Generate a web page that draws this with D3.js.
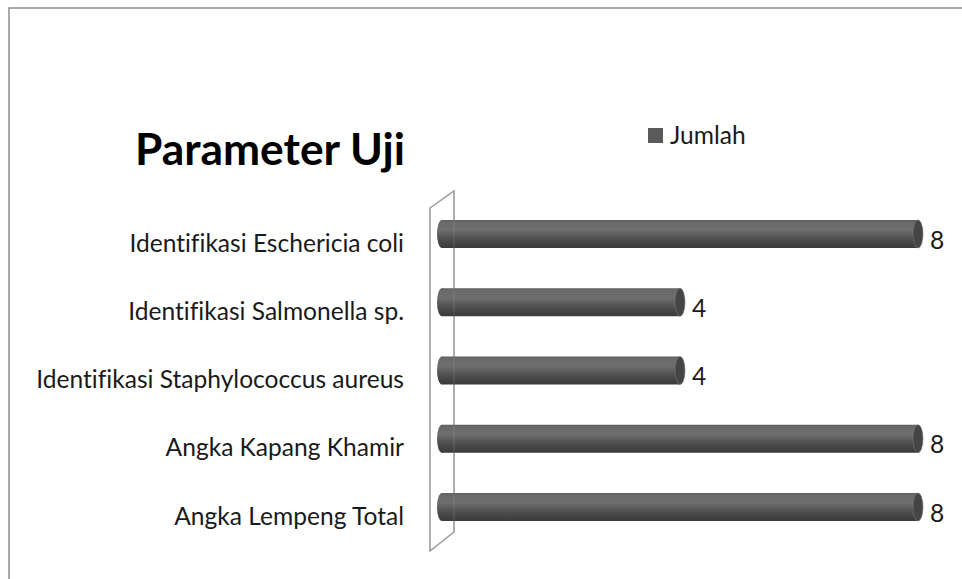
<!DOCTYPE html>
<html><head><meta charset="utf-8">
<script src="https://cdn.jsdelivr.net/npm/d3@7"></script>
<style>html,body{margin:0;padding:0;background:#fff;}svg{display:block;}text{font-variant-ligatures:none;font-feature-settings:"liga" 0,"clig" 0;}</style>
</head><body>
<svg id="c" width="962" height="579"></svg>
<script>
const categories = ["Identifikasi Eschericia coli","Identifikasi Salmonella sp.","Identifikasi Staphylococcus aureus","Angka Kapang Khamir","Angka Lempeng Total"];
const values = [8,4,4,8,8];
const seriesName = "Jumlah";
const title = "Parameter Uji";

const svg = d3.select("#c");
const FONT = "Lato, 'Open Sans', sans-serif";

// frame
svg.append("path").attr("d","M9,579 L9,8 L962,8").attr("fill","none").attr("stroke","#8c8c8c").attr("stroke-width",1.5);

const x = d3.scaleLinear().domain([0,8]).range([442,918]);
const y = d3.scalePoint().domain(categories).range([234,507]);
const barH = 28, capRx = 5;

// gradient
const defs = svg.append("defs");
const g = defs.append("linearGradient").attr("id","cyl").attr("x1",0).attr("y1",0).attr("x2",0).attr("y2",1);
[[0,"#5e5e5e"],[0.08,"#6a6a6a"],[0.35,"#6e6e6e"],[0.6,"#555555"],[0.85,"#424242"],[1,"#3a3a3a"]].forEach(([o,c])=>g.append("stop").attr("offset",o).attr("stop-color",c));

// wall
svg.append("polygon").attr("points","430,208 454,191 454,532 430,551").attr("fill","#fff").attr("stroke","#999").attr("stroke-width",1.5);

// bars
const bars = svg.append("g").selectAll("g").data(categories).join("g");
bars.append("ellipse").attr("cx",x(0)).attr("cy",d=>y(d)).attr("rx",capRx).attr("ry",barH/2).attr("fill","url(#cyl)");
bars.append("rect").attr("x",x(0)).attr("y",d=>y(d)-barH/2).attr("width",(d,i)=>x(values[i])-x(0)).attr("height",barH).attr("fill","url(#cyl)");
bars.append("ellipse").attr("cx",(d,i)=>x(values[i])).attr("cy",d=>y(d)).attr("rx",capRx).attr("ry",barH/2).attr("fill","#454545").attr("stroke","#777").attr("stroke-width",0.6);

// faint wall edge over bars
svg.append("line").attr("x1",454).attr("x2",454).attr("y1",191).attr("y2",532).attr("stroke","#999").attr("stroke-opacity",0.35).attr("stroke-width",1);

// fit helper
function fit(sel, target){
  const w = sel.node().getComputedTextLength();
  const fs = parseFloat(sel.attr("font-size"));
  sel.attr("font-size", fs*target/w);
  return fs*target/w;
}

// category labels
const probe = svg.append("text").attr("font-family",FONT).attr("font-size",20).text(categories[2]);
const catFs = fit(probe, 368); probe.remove();
svg.append("g").selectAll("text").data(categories).join("text")
  .attr("x",404).attr("y",d=>y(d)+9).attr("dy","0.35em").attr("text-anchor","end")
  .attr("font-family",FONT).attr("font-size",catFs).attr("fill","#1a1a1a").text(d=>d);

// value labels
svg.append("g").selectAll("text").data(values).join("text")
  .attr("x",(d)=>x(d)+capRx+7).attr("y",(d,i)=>y(categories[i])+6).attr("dy","0.35em")
  .attr("font-family",FONT).attr("font-size",catFs).attr("fill","#1a1a1a").text(d=>d);

// title
const t = svg.append("text").attr("x",135).attr("y",165).attr("font-family",FONT).attr("font-weight","bold").attr("font-size",40).attr("fill","#000").text(title);
fit(t, 270);

// legend
svg.append("rect").attr("x",648).attr("y",128).attr("width",15).attr("height",15).attr("fill","#5a5a5a");
svg.append("text").attr("x",670).attr("y",144).attr("font-family",FONT).attr("font-size",catFs).attr("fill","#1a1a1a").text(seriesName);
</script>
</body></html>
